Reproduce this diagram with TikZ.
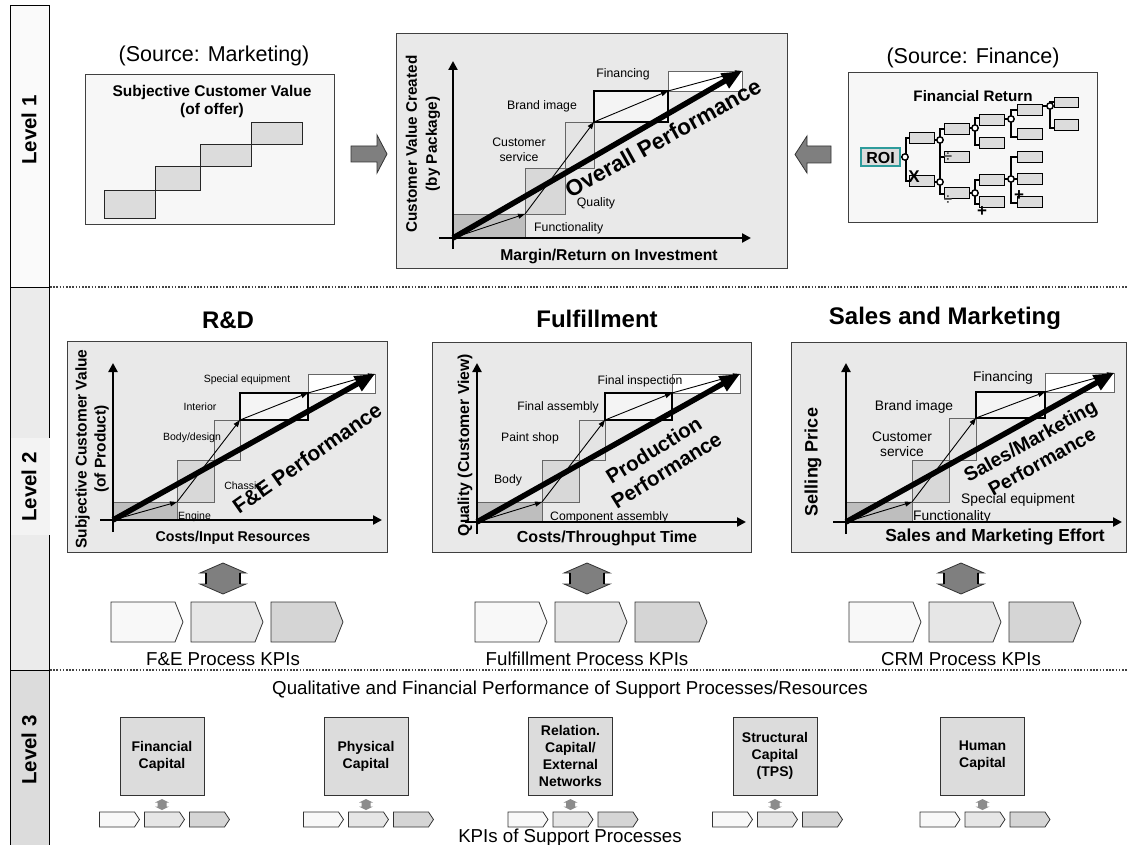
\documentclass[tikz,border=0pt]{standalone}
\usepackage{fontspec}
\setmainfont{Liberation Sans}
\usetikzlibrary{arrows.meta}

\definecolor{colLvlA}{HTML}{FAFAFA}
\definecolor{colLvlB}{HTML}{EBEBEB}
\definecolor{colLvlC}{HTML}{DCDCDC}
\definecolor{colLvlHi}{HTML}{F3F3F3}
\definecolor{colPanelLight}{HTML}{F7F7F7}
\definecolor{colPanel}{HTML}{E9E9E9}
\definecolor{colStepA}{HTML}{BEBEBE}
\definecolor{colStepB}{HTML}{D8D8D8}
\definecolor{colStepC}{HTML}{E4E4E4}
\definecolor{colStepD}{HTML}{F4F4F4}
\definecolor{colStair}{HTML}{DCDCDC}
\definecolor{colBlock}{HTML}{7F7F7F}
\definecolor{colKpiA}{HTML}{F8F8F8}
\definecolor{colKpiB}{HTML}{E6E6E6}
\definecolor{colKpiC}{HTML}{D5D5D5}
\definecolor{colCap}{HTML}{DCDCDC}
\definecolor{colRoi}{HTML}{2E9C9C}
\definecolor{colDots}{HTML}{444444}
\definecolor{colTree}{HTML}{DCDCDC}

\tikzset{
  lvl/.style={font=\fontsize{20.5}{24}\selectfont\bfseries, rotate=90, inner sep=0pt},
  src/.style={font=\fontsize{21.5}{25}\selectfont, inner sep=0pt},
  head/.style={font=\fontsize{24}{28}\selectfont\bfseries, inner sep=0pt},
  panelbox/.style={draw=black!75, line width=1pt},
  sepline/.style={draw=colDots, line width=1.2pt, dash pattern=on 1.6pt off 1.6pt},
  axisline/.style={line width=2.6pt, -{Triangle[length=9pt,width=9pt]}},
  thinarr/.style={line width=0.9pt, -{Triangle[length=7pt,width=5pt]}},
  bigarr/.style={line width=5.5pt, -{Triangle[length=20pt,width=16pt]}},
  lbl/.style={inner sep=0pt, align=center},
  axl/.style={inner sep=0pt, align=center},
  perf/.style={inner sep=0pt, align=center},
  kpi/.style={font=\fontsize{18.7}{22}\selectfont, inner sep=0pt},
  stair/.style={fill=colStair, draw=black!85, line width=1pt},
  blockarr/.style={fill=colBlock, draw=black!80, line width=0.8pt},
  capbox/.style={draw=black!80, fill=colCap, line width=1pt, minimum width=84pt,
    minimum height=78pt, inner sep=0pt, align=center,
    font=\fontsize{14}{17}\selectfont\bfseries},
  fbox/.style={fill=colTree, draw=black, line width=1pt},
  brk/.style={line width=2.6pt, line cap=butt},
  fnode/.style={fill=white, draw=black, line width=1.4pt},
}

% one process chevron: top-left x, top y, body width, height, tip length, fill
\newcommand\chev[6]{%
  \filldraw[fill=#6, draw=black!80, line width=0.8pt]
    (#1,#2) -- ++(#3,0) -- ++(#5,#4/2) -- ++(-#5,#4/2) -- ++(-#3,0) -- cycle;}

% vertical double-headed block arrow
\newcommand\updown[7]{%
  \filldraw[#7] (#1,#2) -- (#1+#4,#2+#6) -- (#1+#5,#2+#6) -- (#1+#5,#3-#6)
    -- (#1+#4,#3-#6) -- (#1,#3) -- (#1-#4,#3-#6) -- (#1-#5,#3-#6)
    -- (#1-#5,#2+#6) -- (#1-#4,#2+#6) -- cycle;}

% staircase performance chart built from coordinates <p>-0 ... <p>-5, axes <p>-xl/xr/yb/yt
\newcommand\drawchart[1]{%
  \filldraw[draw=black!60, fill=colStepA, line width=0.8pt] (#1-0) rectangle (#1-1);
  \filldraw[draw=black!60, fill=colStepB, line width=0.8pt] (#1-1) rectangle (#1-2);
  \filldraw[draw=black!60, fill=colStepC, line width=0.8pt] (#1-2) rectangle (#1-3);
  \filldraw[draw=black!60, fill=white, line width=0.8pt] (#1-4) rectangle (#1-5);
  \filldraw[draw=black, fill=colStepD, line width=2pt] (#1-3) rectangle (#1-4);
  \draw[axisline] (#1-xl) -- (#1-xr);
  \draw[axisline] (#1-yb) -- (#1-yt);
  \draw[thinarr] (#1-0) -- (#1-1);
  \draw[thinarr] (#1-1) -- (#1-3);
  \draw[thinarr] (#1-3) -- (#1-4);
  \draw[thinarr] (#1-4) -- (#1-5);
  \draw[bigarr] (#1-0) -- (#1-5);}

\begin{document}
\begin{tikzpicture}[x=1pt,y=-1pt]
\useasboundingbox (0,0) rectangle (1127,845);
\fill[white] (0,0) rectangle (1127,845);

% ---------- level column ----------
\filldraw[fill=colLvlA, draw=black, line width=1pt] (10,6) rectangle (49,287);
\filldraw[fill=colLvlB, draw=black, line width=1pt] (10,287) rectangle (49,670);
\filldraw[fill=colLvlC, draw=black, line width=1pt] (10,670) rectangle (49,850);
\fill[colLvlHi] (10.5,438) rectangle (50,535);
\node[lvl] (lv1) at (29,130) {Level 1};
\node[lvl] (lv2) at (29,487) {Level 2};
\node[lvl] (lv3) at (29,750) {Level 3};

\draw[sepline] (50,287) -- (1127,287);
\draw[sepline] (50,670) -- (1127,670);

% ---------- level 1: marketing source ----------
\node[src] (srcM) at (214,56) {(Source: Marketing)};
\filldraw[panelbox, fill=colPanelLight] (85,75) rectangle (334,225);
\node[axl, font=\fontsize{15.5}{18}\selectfont\bfseries] (scv) at (212,101)
  {Subjective Customer Value\\(of offer)};
\filldraw[stair] (104,191) rectangle (155,219);
\filldraw[stair] (155,167) rectangle (200,191);
\filldraw[stair] (200,145) rectangle (251,167);
\filldraw[stair] (251,123) rectangle (302,145);

\filldraw[blockarr] (351,146) -- (377,146) -- (377,135) -- (387,154) -- (377,173)
  -- (377,162) -- (351,162) -- cycle;
\filldraw[blockarr] (831,146) -- (807,146) -- (807,136) -- (795,154.5) -- (807,173)
  -- (807,163) -- (831,163) -- cycle;

% ---------- level 1: overall chart ----------
\filldraw[panelbox, fill=colPanel] (396,34) rectangle (787,268);
\coordinate (ov-0) at (453,238);
\coordinate (ov-1) at (525,214);
\coordinate (ov-2) at (565,168);
\coordinate (ov-3) at (594,122);
\coordinate (ov-4) at (668,91);
\coordinate (ov-5) at (742,71);
\coordinate (ov-xl) at (439,238);
\coordinate (ov-xr) at (751,238);
\coordinate (ov-yb) at (453,249);
\coordinate (ov-yt) at (453,61);
\drawchart{ov}
\begin{scope}[every node/.style={font=\fontsize{12.3}{15}\selectfont}]
\node[lbl, anchor=west] (ovl1) at (534,228) {Functionality};
\node[lbl] (ovl2) at (596,203) {Quality};
\node[lbl] (ovl3) at (519,150) {Customer\\service};
\node[lbl] (ovl4) at (542,106) {Brand image};
\node[lbl] (ovl5) at (623,74) {Financing};
\end{scope}
\node[perf, rotate=29, font=\fontsize{22.5}{26}\selectfont\bfseries] (ovp) at (663,138) {Overall Performance};
\node[axl, font=\fontsize{15.7}{19}\selectfont\bfseries] (ovx) at (609,256) {Margin/Return on Investment};
\node[axl, rotate=90, font=\fontsize{15.3}{20}\selectfont\bfseries] (ovy) at (423,144)
  {Customer Value Created\\(by Package)};

% ---------- level 1: finance source ----------
\node[src] (srcF) at (973,58) {(Source: Finance)};
\filldraw[panelbox, fill=colPanelLight] (848,73) rectangle (1097,223);
\node[axl, font=\fontsize{15.2}{18}\selectfont\bfseries] (fret) at (973,96) {Financial Return};
% tree boxes
\foreach \bx/\by in {909/133, 909/176, 944/124, 944/152, 944/188,
                     979/115, 979/138, 979/175, 979/197,
                     1017/105, 1017/129, 1017/152, 1017/174, 1017/197}
  {\filldraw[fbox] (\bx,\by) rectangle ++(25,11);}
\filldraw[fbox] (1054,98) rectangle (1078,108);
\filldraw[fbox] (1054,120) rectangle (1078,131);
% brackets
\draw[brk] (901,157) -- (906,157);
\draw[brk] (910,138) -- (906,138) -- (906,181) -- (910,181);
\draw[brk] (945,129) -- (940,129) -- (940,194) -- (945,194);
\draw[brk] (940,157) -- (945,157);
\draw[brk] (934,140) -- (940,140);
\draw[brk] (934,182) -- (940,182);
\draw[brk] (980,118) -- (975,118) -- (975,145) -- (980,145);
\draw[brk] (969,128) -- (975,128);
\draw[brk] (980,180) -- (975,180) -- (975,204) -- (980,204);
\draw[brk] (969,193) -- (975,193);
\draw[brk] (1018,110) -- (1011,110) -- (1011,137) -- (1018,137);
\draw[brk] (1004,119) -- (1011,119);
\draw[brk] (1018,157) -- (1011,157) -- (1011,203) -- (1018,203);
\draw[brk] (1004,179) -- (1018,179);
\draw[brk] (1055,102) -- (1050,102) -- (1050,128) -- (1055,128);
\draw[brk] (1042,106) -- (1050,106);
% operator nodes
\foreach \cx/\cy in {905/157, 940/140, 940/182, 975/128, 975/193, 1011/119, 1011/179, 1050/106}
  {\filldraw[fnode] (\cx,\cy) circle (3.2);}
\filldraw[fill=colTree, draw=colRoi, line width=1.5pt] (861,148) rectangle (900,166);
\node[font=\fontsize{16}{18}\selectfont\bfseries, inner sep=0pt] (roi) at (880.5,157.5) {ROI};
\node[font=\fontsize{17}{18}\selectfont\bfseries, inner sep=0pt] (opx) at (914,177) {X};
\node[font=\fontsize{15}{18}\selectfont\bfseries, text=black!70, inner sep=0pt] (opd1) at (948,157) {÷};
\node[font=\fontsize{15}{18}\selectfont\bfseries, text=black!70, inner sep=0pt] (opd2) at (948,200) {÷};
\node[font=\fontsize{17}{18}\selectfont\bfseries, inner sep=0pt] (opp1) at (982,212) {+};
\node[font=\fontsize{17}{18}\selectfont\bfseries, inner sep=0pt] (opp2) at (1019,196) {+};

% ---------- level 2: R&D ----------
\node[head] (tRD) at (228,320) {R\&D};
\filldraw[panelbox, fill=colPanel] (67,341) rectangle (387,552);
\coordinate (rd-0) at (113,520);
\coordinate (rd-1) at (177,502);
\coordinate (rd-2) at (214,460);
\coordinate (rd-3) at (240,420);
\coordinate (rd-4) at (308,393);
\coordinate (rd-5) at (375,374);
\coordinate (rd-xl) at (100,520);
\coordinate (rd-xr) at (382,520);
\coordinate (rd-yb) at (113,532);
\coordinate (rd-yt) at (113,363);
\drawchart{rd}
\begin{scope}[every node/.style={font=\fontsize{10.5}{13}\selectfont}]
\node[lbl, anchor=west] (rdl1) at (178,517) {Engine};
\node[lbl] (rdl2) at (243,486) {Chassis};
\node[lbl] (rdl3) at (192,438) {Body/design};
\node[lbl] (rdl4) at (200,407) {Interior};
\node[lbl] (rdl5) at (247,380) {Special equipment};
\end{scope}
\node[perf, rotate=35, font=\fontsize{21}{24}\selectfont\bfseries] (rdp) at (307,458) {F\&E Performance};
\node[axl, font=\fontsize{14.2}{17}\selectfont\bfseries] (rdx) at (233,538) {Costs/Input Resources};
\node[axl, rotate=90, font=\fontsize{15.5}{19}\selectfont\bfseries] (rdy) at (92,449)
  {Subjective Customer Value\\(of Product)};

% ---------- level 2: fulfillment ----------
\node[head] (tFU) at (597,319) {Fulfillment};
\filldraw[panelbox, fill=colPanel] (432,342) rectangle (751,552);
\coordinate (fu-0) at (477,522);
\coordinate (fu-1) at (542,502);
\coordinate (fu-2) at (579,460);
\coordinate (fu-3) at (605,420);
\coordinate (fu-4) at (672,393);
\coordinate (fu-5) at (740,374);
\coordinate (fu-xl) at (465,522);
\coordinate (fu-xr) at (746,522);
\coordinate (fu-yb) at (477,534);
\coordinate (fu-yt) at (477,363);
\drawchart{fu}
\begin{scope}[every node/.style={font=\fontsize{12.2}{15}\selectfont}]
\node[lbl, anchor=west] (ful1) at (550,517) {Component assembly};
\node[lbl] (ful2) at (508,480) {Body};
\node[lbl] (ful3) at (530,438) {Paint shop};
\node[lbl] (ful4) at (558,407) {Final assembly};
\node[lbl] (ful5) at (640,381) {Final inspection};
\end{scope}
\node[perf, rotate=32, font=\fontsize{20.5}{24}\selectfont\bfseries] (fup) at (660,460) {Production\\Performance};
\node[axl, font=\fontsize{16}{19}\selectfont\bfseries] (fux) at (607,538) {Costs/Throughput Time};
\node[axl, rotate=90, font=\fontsize{15.8}{19}\selectfont\bfseries] (fuy) at (465,445) {Quality (Customer View)};

% ---------- level 2: sales and marketing ----------
\node[head] (tSM) at (945,318) {Sales and Marketing};
\filldraw[panelbox, fill=colPanel] (791,342) rectangle (1126,552);
\coordinate (sm-0) at (846,522);
\coordinate (sm-1) at (912,502);
\coordinate (sm-2) at (949,460);
\coordinate (sm-3) at (976,418);
\coordinate (sm-4) at (1045,392);
\coordinate (sm-5) at (1114,373);
\coordinate (sm-xl) at (833,522);
\coordinate (sm-xr) at (1122,522);
\coordinate (sm-yb) at (846,534);
\coordinate (sm-yt) at (846,363);
\drawchart{sm}
\begin{scope}[every node/.style={font=\fontsize{13.8}{15.5}\selectfont}]
\node[lbl, anchor=west] (sml1) at (913,517) {Functionality};
\node[lbl] (sml2) at (1018,500) {Special equipment};
\node[lbl] (sml3) at (902,444) {Customer\\service};
\node[lbl] (sml4) at (914,407) {Brand image};
\node[lbl] (sml5) at (1003,378) {Financing};
\end{scope}
\node[perf, rotate=29, font=\fontsize{19.5}{24}\selectfont\bfseries] (smp) at (1036,451) {Sales/Marketing\\Performance};
\node[axl, font=\fontsize{17.4}{19}\selectfont\bfseries] (smx) at (995,537) {Sales and Marketing Effort};
\node[axl, rotate=90, font=\fontsize{18}{20}\selectfont\bfseries] (smy) at (813,462) {Selling Price};

% ---------- level 2: process KPIs ----------
\foreach \gx/\gm in {111/223, 475/587, 849/961} {
  \foreach \k/\kc in {0/colKpiA, 1/colKpiB, 2/colKpiC}
    {\chev{\gx+80*\k}{602}{64}{40}{8}{\kc}}
  \updown{\gm}{563}{594}{23}{17}{10}{fill=colBlock, draw=black!80, line width=0.8pt}
  \draw[line width=2.2pt] (\gm-17,573) -- (\gm-17,584);
  \draw[line width=2.2pt] (\gm+17,573) -- (\gm+17,584);
}
\node[kpi] (kpiRD) at (223,659) {F\&E Process KPIs};
\node[kpi] (kpiFU) at (587,659) {Fulfillment Process KPIs};
\node[kpi] (kpiSM) at (961,659) {CRM Process KPIs};

% ---------- level 3 ----------
\node[kpi] (supTitle) at (570,690) {Qualitative and Financial Performance of Support Processes/Resources};
\node[capbox] (capF) at (162,756) {Financial\\Capital};
\node[capbox] (capP) at (366,756) {Physical\\Capital};
\node[capbox] (capR) at (570.5,756) {Relation.\\Capital/\\External\\Networks};
\node[capbox] (capS) at (775,756) {Structural\\Capital\\(TPS)};
\node[capbox] (capH) at (982.5,756) {Human\\Capital};
\foreach \cx in {162,366,570.5,775,982.5} {
  \updown{\cx}{799}{810}{7}{4.5}{3.5}{fill=black!45, draw=none}
  \foreach \k/\kc in {0/colKpiA, 1/colKpiB, 2/colKpiC}
    {\chev{\cx-62.5+45*\k}{812}{35}{15}{5}{\kc}}
}
\node[kpi] (kpiSup) at (570,838) {KPIs of Support Processes};
\end{tikzpicture}
\end{document}
